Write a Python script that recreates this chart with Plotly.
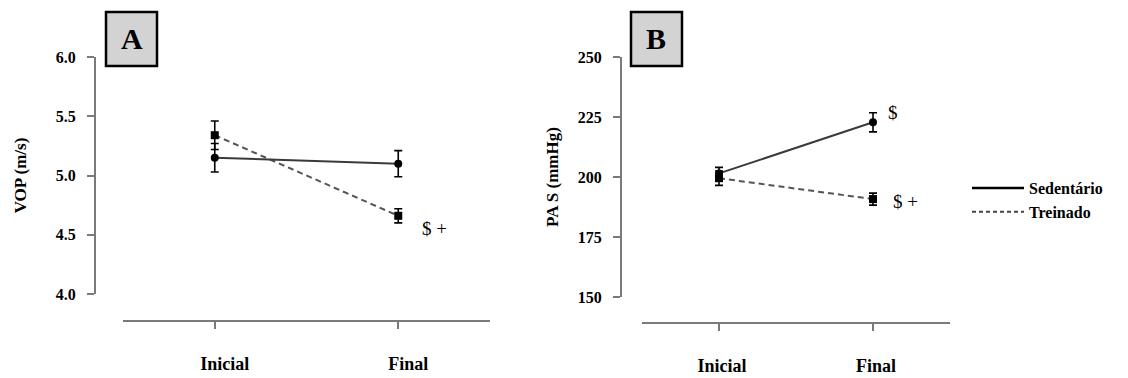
import plotly.graph_objects as go

# ---------------- data ----------------
times = ["Inicial", "Final"]
groups = ["Sedentário", "Treinado"]

vop_sed = [5.15, 5.10]
vop_sed_err = [0.12, 0.11]
vop_tre = [5.34, 4.66]
vop_tre_err = [0.12, 0.06]

pas_sed = [201.5, 222.8]
pas_sed_err = [2.5, 4.0]
pas_tre = [199.5, 190.8]
pas_tre_err = [3.0, 2.5]

vop_ticks = [4.0, 4.5, 5.0, 5.5, 6.0]
pas_ticks = [150, 175, 200, 225, 250]

# ---------------- layout helpers ----------------
W, H = 1128, 378
SERIF = "Liberation Serif"
AXC = "#7a7a7a"


def fx(px):
    return px / W


def fy(py):
    return 1 - py / H


fig = go.Figure()

SED_LINE = dict(color="#3a3a3a", width=2)
TRE_LINE = dict(color="#555555", width=2, dash="6px,4px")


def add_pair(sed, sed_err, tre, tre_err, xa, ya):
    fig.add_trace(go.Scatter(
        x=times, y=tre, mode="lines+markers", xaxis=xa, yaxis=ya,
        line=TRE_LINE, marker=dict(symbol="square", size=8, color="black"),
        error_y=dict(type="data", array=tre_err, color="black", thickness=1.6, width=4),
        showlegend=False, name=groups[1]))
    fig.add_trace(go.Scatter(
        x=times, y=sed, mode="lines+markers", xaxis=xa, yaxis=ya,
        line=SED_LINE, marker=dict(symbol="circle", size=8, color="black"),
        error_y=dict(type="data", array=sed_err, color="black", thickness=1.6, width=4),
        showlegend=False, name=groups[0]))


add_pair(vop_sed, vop_sed_err, vop_tre, vop_tre_err, "x", "y")
add_pair(pas_sed, pas_sed_err, pas_tre, pas_tre_err, "x2", "y2")

# legend-only entries (line samples)
fig.add_trace(go.Scatter(x=[None], y=[None], mode="lines", name="<b>%s</b>" % groups[0],
                         line=dict(color="black", width=2.5), xaxis="x2", yaxis="y2"))
fig.add_trace(go.Scatter(x=[None], y=[None], mode="lines", name="<b>%s</b>" % groups[1],
                         line=dict(color="#444444", width=2, dash="4px,3px"), xaxis="x2", yaxis="y2"))

tickfont = dict(family=SERIF, size=16, color="black")
labfont = dict(family=SERIF, size=18, color="black")


def xaxis_cfg(x0, x1, ypos, shift):
    return dict(
        domain=[fx(x0), fx(x1)], anchor="free", position=fy(ypos),
        type="category", range=[-0.5, 1.5], showgrid=False, zeroline=False,
        showline=True, linecolor=AXC, linewidth=2,
        ticks="outside", ticklen=7, tickwidth=2, tickcolor=AXC,
        tickvals=times, ticktext=["<b>%s</b>" % t for t in times],
        tickfont=labfont, ticklabelstandoff=19, ticklabelshift=shift,
        automargin=False, fixedrange=True)


def yaxis_cfg(y0, y1, xpos, rng, ticks, fmt, title, standoff):
    return dict(
        domain=[fy(y1), fy(y0)], anchor="free", position=fx(xpos),
        range=rng, showgrid=False, zeroline=False,
        showline=True, linecolor=AXC, linewidth=2,
        ticks="outside", ticklen=7, tickwidth=2, tickcolor=AXC,
        tickvals=ticks, ticktext=["<b>%s</b>" % (fmt % t) for t in ticks],
        tickfont=tickfont, ticklabelstandoff=8,
        title=dict(text="<b>%s</b>" % title, font=dict(family=SERIF, size=17, color="black"),
                   standoff=standoff),
        automargin=False, fixedrange=True)


fig.update_layout(
    width=W, height=H,
    margin=dict(l=0, r=0, t=0, b=0),
    paper_bgcolor="white", plot_bgcolor="white",
    xaxis=xaxis_cfg(123, 490, 321, 10),
    yaxis=yaxis_cfg(57, 294, 95, [4.0, 6.0], vop_ticks, "%.1f", "VOP (m/s)", 24),
    xaxis2=xaxis_cfg(642, 950, 323, 3),
    yaxis2=yaxis_cfg(57, 297, 621, [150, 250], pas_ticks, "%d", "PA S (mmHg)", 14),
    legend=dict(x=fx(967), y=fy(200), xanchor="left", yanchor="middle",
                font=dict(family=SERIF, size=16, color="black"),
                bgcolor="rgba(0,0,0,0)", borderwidth=0, itemwidth=52,
                tracegroupgap=4),
    showlegend=True,
)

# panel letter boxes
for (x0, x1, letter) in [(106, 157, "A"), (631, 682, "B")]:
    fig.add_shape(type="rect", xref="paper", yref="paper",
                  x0=fx(x0), x1=fx(x1), y0=fy(66), y1=fy(12),
                  fillcolor="#d3d3d3", line=dict(color="black", width=2.5))
    fig.add_annotation(xref="paper", yref="paper", x=fx((x0 + x1) / 2), y=fy(39),
                       text="<b>%s</b>" % letter, showarrow=False,
                       font=dict(family=SERIF, size=30, color="black"),
                       xanchor="center", yanchor="middle")

# significance marks
sig = [("x", "y", 1.2, 4.55, "$ +"),
       ("x2", "y2", 1.13, 226.7, "$"),
       ("x2", "y2", 1.21, 189.6, "$ +")]
for xr, yr, xv, yv, txt in sig:
    fig.add_annotation(xref=xr, yref=yr, x=xv, y=yv, text=txt, showarrow=False,
                       font=dict(family=SERIF, size=19, color="black"),
                       xanchor="center", yanchor="middle")

fig.write_html("out.html")
